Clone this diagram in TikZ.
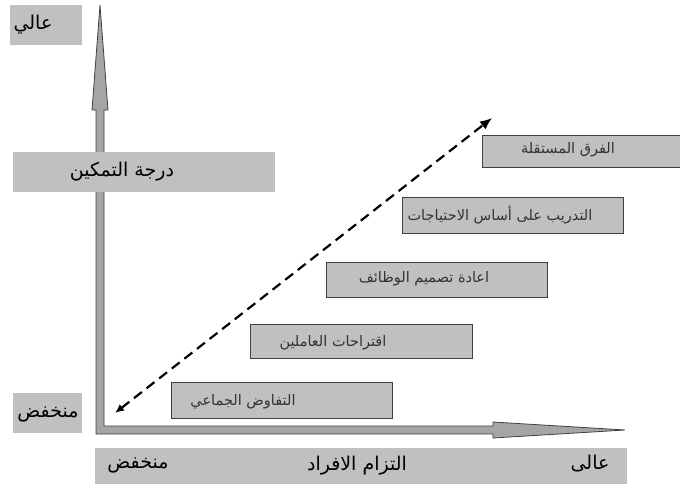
\documentclass[tikz,border=0pt]{standalone}
\usepackage{fontspec}
\usetikzlibrary{arrows.meta}
\TeXXeTstate=1
\newfontfamily\arabicfont[Script=Arabic]{DejaVu Sans}
\newcommand{\artxt}[1]{{\arabicfont\beginR #1\endR}}
\definecolor{boxgray}{RGB}{192,192,192}
\definecolor{edgegray}{RGB}{64,64,64}
\definecolor{axisgray}{RGB}{165,165,165}
\tikzset{lbl/.style={fill=boxgray,inner sep=0pt},
 stage/.style={draw=edgegray,fill=boxgray,line width=0.9pt,inner sep=0pt,minimum height=35pt},
 txt/.style={font=\fontsize{19}{22}\selectfont,inner sep=0pt},
 stxt/.style={font=\fontsize{14.5}{17}\selectfont,text=black!80,inner sep=0pt},
 axis/.style={draw=edgegray,fill=axisgray,line width=0.8pt},
 trend/.style={{Latex[length=9pt,width=8pt]}-{Latex[length=12pt,width=10pt]},line width=2.2pt,dash pattern=on 10pt off 6pt}}

\begin{document}
\begin{tikzpicture}[x=1pt,y=-1pt]
\useasboundingbox (0,0) rectangle (680,483);
% axes
\filldraw[axis](96,434)--(96,110)--(92,110)--(100,5)--(108,110)--(104,110)--(104,426)
 --(493,426)--(493,422)--(625,430)--(493,438)--(493,434)--cycle;
% axis labels
\node[lbl,minimum width=72pt,minimum height=40pt](hibox) at (46,25){};
\node[lbl,minimum width=262pt,minimum height=40pt](degbox) at (144,172){};
\node[lbl,minimum width=69pt,minimum height=40pt](lobox) at (47.5,413){};
\node[lbl,minimum width=532pt,minimum height=36pt](combox) at (361,466){};
\node[txt](hi) at (33,25){\artxt{عالي}};
\node[txt](deg) at (122,172){\artxt{درجة التمكين}};
\node[txt](lo) at (48,414){\artxt{منخفض}};
\node[txt](lox) at (138,465){\artxt{منخفض}};
\node[txt](comm) at (357,466){\artxt{التزام الافراد}};
\node[txt](hix) at (590,464){\artxt{عالى}};
% stages
\node[stage,minimum width=206pt,minimum height=32pt](s5) at (585,151){};
\node[stage,minimum width=221pt,minimum height=36pt](s4) at (512.5,215){};
\node[stage,minimum width=221pt](s3) at (436.5,279.5){};
\node[stage,minimum width=222pt,minimum height=34pt](s2) at (361,341){};
\node[stage,minimum width=221pt,minimum height=36pt](s1) at (281.5,400){};
\node[stxt](t5) at (568,150){\artxt{الفرق المستقلة}};
\node[stxt](t4) at (500,215){\artxt{التدريب على أساس الاحتياجات}};
\node[stxt](t3) at (424,279){\artxt{اعادة تصميم الوظائف}};
\node[stxt](t2) at (333,343){\artxt{اقتراحات العاملين}};
\node[stxt](t1) at (243,402){\artxt{التفاوض الجماعي}};
% trend
\coordinate(low) at (115,413);\coordinate(high) at (492,118);
\draw[trend](low)--(high);
\end{tikzpicture}
\end{document}
